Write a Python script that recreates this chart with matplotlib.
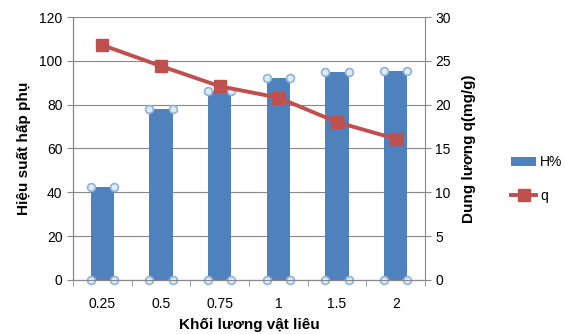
import numpy as np
import matplotlib.pyplot as plt
from matplotlib.ticker import MultipleLocator

# Data
mass = ['0.25', '0.5', '0.75', '1', '1.5', '2']
H = [42.5, 78, 86.3, 92.2, 95, 95.5]        # hieu suat (%)
q = [26.8, 24.4, 22.1, 20.8, 18.0, 16.1]    # dung luong (mg/g)

plt.rcParams['font.family'] = ['Liberation Sans', 'DejaVu Sans']

fig = plt.figure(figsize=(5.66, 3.34), dpi=100)
ax = fig.add_axes([0.129, 0.162, 0.622, 0.787])
ax2 = ax.twinx()

x = np.arange(len(mass))
w = 0.4
bars = ax.bar(x, H, width=w, color='#4F81BD', zorder=2, label='H%')

# selection handles at bar corners (as in the original screenshot)
hx = np.concatenate([x - w / 2, x + w / 2, x - w / 2, x + w / 2])
hy = np.concatenate([H, H, np.zeros(len(H)), np.zeros(len(H))])
ax.scatter(hx, hy, s=32, facecolor='#DCEBF7', edgecolor='#8DB3D6', linewidth=1.2, zorder=4, clip_on=False)

line, = ax2.plot(x, q, color='#C0504D', lw=2.8, marker='s', ms=8, zorder=5, label='q')

ax.set_xlim(-0.5, len(mass) - 0.5)
ax.set_ylim(0, 120)
ax2.set_ylim(0, 30)
ax.yaxis.set_major_locator(MultipleLocator(20))
ax2.yaxis.set_major_locator(MultipleLocator(5))

ax.set_xticks(x)
ax.set_xticklabels(mass)
ax.set_xticks(np.arange(len(mass) + 1) - 0.5, minor=True)
ax.tick_params(axis='x', which='major', length=0, labelsize=10, pad=12)
ax.tick_params(axis='x', which='minor', length=4, color='#888888')
ax.tick_params(axis='y', length=4, color='#888888', labelsize=10)
ax2.tick_params(axis='y', length=4, color='#888888', labelsize=10)

ax.grid(axis='y', color='#888888', lw=0.8, zorder=0)
ax.set_axisbelow(True)
ax2.set_zorder(ax.get_zorder() + 1)
ax2.patch.set_visible(False)
for a in (ax, ax2):
    a.spines['top'].set_visible(False)
    for s in ('left', 'right', 'bottom'):
        a.spines[s].set_color('#888888')
ax.spines['right'].set_visible(False)

ax.set_ylabel('Hiệu suất hấp phụ', fontsize=11, fontweight='bold', labelpad=6)
ax2.set_ylabel('Dung lương q(mg/g)', fontsize=11, fontweight='bold', labelpad=8)
ax.set_xlabel('Khối lương vật liêu', fontsize=11, fontweight='bold', labelpad=5)

fig.legend([bars, line], ['H%', 'q'], loc='upper left', bbox_to_anchor=(0.903, 0.535),
           frameon=False, fontsize=10, handlelength=1.8, labelspacing=1.4, handletextpad=0.3,
           borderaxespad=0, borderpad=0)

fig.savefig('out.png', dpi=100)
